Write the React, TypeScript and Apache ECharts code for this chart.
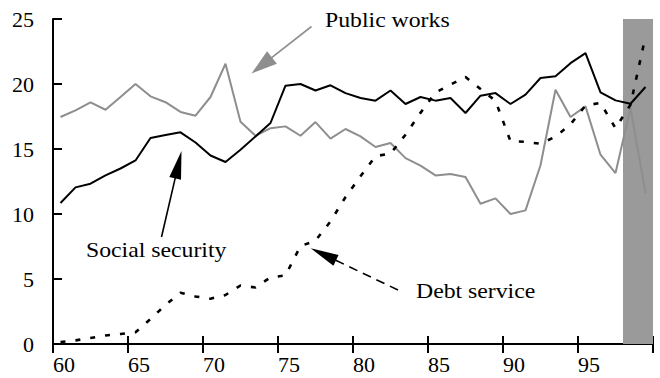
import React, { useEffect, useRef } from "react";
import * as echarts from "echarts";

// Share of spending by function, 1960-1999 (per cent)
const years = [
  60, 61, 62, 63, 64, 65, 66, 67, 68, 69,
  70, 71, 72, 73, 74, 75, 76, 77, 78, 79,
  80, 81, 82, 83, 84, 85, 86, 87, 88, 89,
  90, 91, 92, 93, 94, 95, 96, 97, 98, 99,
];

const socialSecurity = [
  10.85, 12.05, 12.33, 12.97, 13.5, 14.12, 15.85, 16.08, 16.28, 15.5,
  14.5, 14.0, 14.95, 15.97, 17.0, 19.87, 20.0, 19.5, 19.9, 19.3,
  18.92, 18.72, 19.5, 18.46, 19.0, 18.72, 18.92, 17.77, 19.1, 19.3,
  18.46, 19.18, 20.46, 20.59, 21.6, 22.38, 19.36, 18.74, 18.48, 19.77,
];

const publicWorks = [
  17.46, 17.97, 18.58, 18.02, 19.0, 20.0, 19.05, 18.6, 17.85, 17.56,
  19.0, 21.56, 17.1, 16.02, 16.6, 16.74, 16.02, 17.07, 15.8, 16.54,
  15.97, 15.15, 15.46, 14.3, 13.72, 12.97, 13.07, 12.85, 10.79, 11.2,
  10.0, 10.28, 13.75, 19.56, 17.46, 18.28, 14.56, 13.15, 18.15, 11.6,
];

const debtService = [
  0.15, 0.28, 0.46, 0.66, 0.77, 0.9, 1.92, 3.0, 3.95, 3.66,
  3.48, 3.77, 4.5, 4.35, 5.12, 5.28, 7.53, 7.95, 9.43, 11.3,
  12.9, 14.45, 14.65, 16.1, 17.78, 19.35, 19.95, 20.54, 19.62, 18.7,
  15.6, 15.55, 15.4, 15.95, 16.9, 18.35, 18.54, 16.6, 18.4, 23.67,
];

// Shaded period (projection years)
const shadedRange = [98, 100];

const FONT = "Liberation Serif";
const GRAY_LINE = "#8e8e8e";
const SHADE = "#9a9a9a";

// each yearly value is plotted at mid-year
const toPoints = (values: number[]) => years.map((y, i) => [y + 0.5, values[i]]);

function arrow(
  x1: number, y1: number, x2: number, y2: number,
  color: string, headLen: number, headW: number, lineWidth: number, dash?: number[]
) {
  const dx = x2 - x1;
  const dy = y2 - y1;
  const len = Math.sqrt(dx * dx + dy * dy);
  const ux = dx / len;
  const uy = dy / len;
  const bx = x2 - ux * headLen;
  const by = y2 - uy * headLen;
  const px = -uy * (headW / 2);
  const py = ux * (headW / 2);
  return {
    type: "group",
    children: [
      {
        type: "line",
        shape: { x1, y1, x2: bx + ux * 2, y2: by + uy * 2 },
        style: { stroke: color, lineWidth, lineDash: dash || null },
      },
      {
        type: "polygon",
        shape: { points: [[x2, y2], [bx + px, by + py], [bx - px, by - py]] },
        style: { fill: color },
      },
    ],
  };
}

// series name placed beside its line, slightly widened
const label = (text: string, x: number, y: number) => ({
  type: "text",
  x,
  y,
  scaleX: 1.08,
  style: {
    text,
    fill: "#000",
    fontFamily: FONT,
    fontSize: 22,
    align: "left",
    verticalAlign: "top",
  },
});

export default function App() {
  const ref = useRef<HTMLDivElement>(null);

  useEffect(() => {
    if (!ref.current) return;
    const chart = echarts.init(ref.current, null, { renderer: "svg" });

    const option = {
      animation: false,
      backgroundColor: "#ffffff",
      grid: { left: 53, right: 7, top: 19, bottom: 34 },
      xAxis: [
        {
          type: "value",
          min: 60,
          max: 100,
          interval: 5,
          axisLine: { show: true, lineStyle: { color: "#000", width: 2 } },
          axisTick: { show: true, inside: false, length: 9, lineStyle: { color: "#000", width: 2 } },
          axisLabel: {
            show: true,
            margin: 9,
            align: "left",
            color: "#000",
            fontFamily: FONT,
            fontSize: 22,
            formatter: (v: number) => (v >= 100 ? "" : String(v)),
          },
          splitLine: { show: false },
        },
        {
          type: "value",
          position: "bottom",
          min: 60,
          max: 100,
          interval: 5,
          axisLine: { show: false },
          axisTick: { show: true, inside: true, length: 8, lineStyle: { color: "#000", width: 2 } },
          axisLabel: { show: false },
          splitLine: { show: false },
        },
      ],
      yAxis: {
        type: "value",
        min: 0,
        max: 25,
        interval: 5,
        axisLine: { show: true, lineStyle: { color: "#000", width: 2 } },
        axisTick: { show: true, inside: true, length: 9, lineStyle: { color: "#000", width: 2 } },
        axisLabel: {
          margin: 19,
          color: "#000",
          fontFamily: FONT,
          fontSize: 22,
        },
        splitLine: { show: false },
      },
      series: [
        {
          name: "Public works",
          type: "line",
          data: toPoints(publicWorks),
          symbol: "none",
          lineStyle: { color: GRAY_LINE, width: 2 },
          z: 3,
          markArea: {
            silent: true,
            itemStyle: { color: SHADE },
            data: [[{ xAxis: shadedRange[0], yAxis: 0 }, { xAxis: shadedRange[1], yAxis: 25 }]],
          },
        },
        {
          name: "Social security",
          type: "line",
          data: toPoints(socialSecurity),
          symbol: "none",
          lineStyle: { color: "#000", width: 2 },
          z: 4,
        },
        {
          name: "Debt service",
          type: "line",
          data: toPoints(debtService),
          symbol: "none",
          lineStyle: { color: "#000", width: 2.6, type: [5, 10] },
          z: 5,
        },
      ],
      graphic: [
        label("Public works", 325, 9),
        label("Social security", 86, 239),
        label("Debt service", 416, 280),
        arrow(311.5, 26.5, 251.5, 73.5, GRAY_LINE, 26, 16, 1.6),
        arrow(161.5, 237, 181.5, 151, "#000", 28, 12, 1.6),
        arrow(398, 290, 310.7, 248.3, "#000", 28, 12, 1.6, [9, 6]),
      ],
    };

    chart.setOption(option as any);
    return () => chart.dispose();
  }, []);

  return (
    <div
      ref={ref}
      style={{ position: "absolute", left: 0, top: 0, width: 660, height: 378 }}
    />
  );
}
